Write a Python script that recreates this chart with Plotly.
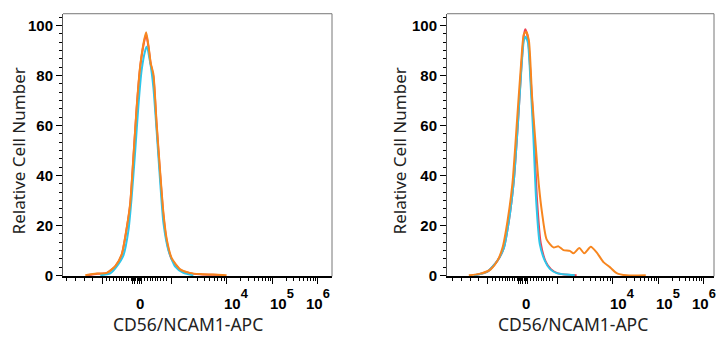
import numpy as np
import plotly.graph_objects as go

# ---------------- data (x in display units of the biexponential axis, y = relative cell number)
tick_labels = ["0", "10<sup><sup><span style='font-size:175%'>4</span></sup></sup>",
               "10<sup><sup><span style='font-size:175%'>5</span></sup></sup>",
               "10<sup><sup><span style='font-size:175%'>6</span></sup></sup>"]
tick_label_pos = [0.06, 2.19, 3.19, 3.98]
major_ticks = [-0.77, -0.1, -0.05, 0.0, 0.05, 0.1, 0.75, 1.97, 2.98, 3.97]

# left panel
left_orange_x = [-1.14, -0.89, -0.67, -0.48, -0.34, -0.23, -0.15, -0.08, -0.01, 0.07, 0.15, 0.20,
                 0.25, 0.30, 0.36, 0.43, 0.51, 0.58, 0.65, 0.76, 0.95, 1.16, 1.38, 1.67, 1.97]
left_orange_y = [0.0, 0.7, 1.0, 3.7, 8.3, 18.8, 29, 47.6, 67, 84, 93.6, 97.3,
                 92, 85, 80.4, 61, 41, 25, 14.8, 7, 2.4, 1.0, 0.5, 0.3, 0.0]
left_red_x = [-1.10, -0.87, -0.66, -0.48, -0.34, -0.23, -0.15, -0.08, -0.01, 0.07, 0.15, 0.20,
              0.25, 0.30, 0.36, 0.43, 0.51, 0.58, 0.65, 0.76, 0.95, 1.16, 1.38, 1.67, 1.90]
left_red_y = [0.0, 0.6, 1.0, 3.6, 8.1, 18.5, 28.5, 47, 66.5, 83.5, 93, 96.5,
              91.5, 84.5, 79.5, 60, 40, 24, 14, 6.5, 2.2, 0.9, 0.4, 0.2, 0.0]
left_cyan_x = [-0.81, -0.59, -0.45, -0.30, -0.19, -0.12, -0.04, 0.03, 0.10, 0.18, 0.21,
               0.29, 0.36, 0.43, 0.51, 0.58, 0.69, 0.84, 1.02, 1.24]
left_cyan_y = [0.0, 0.8, 3.5, 8, 18, 31, 50, 68, 82, 90, 91.5,
               85, 75, 58, 37, 21, 10, 3.5, 1.0, 0.0]

# right panel
right_orange_x = [-1.19, -0.93, -0.71, -0.56, -0.45, -0.34, -0.23, -0.13, -0.04, 0.02, 0.07, 0.13,
                  0.20, 0.28, 0.35, 0.42, 0.52, 0.67, 0.78, 0.89, 1.03, 1.11, 1.24, 1.35, 1.49,
                  1.62, 1.77, 1.91, 2.06, 2.28, 2.70]
right_orange_y = [0.0, 0.7, 2.4, 5.9, 11, 21.7, 37, 62, 85, 96.5, 97.5, 94,
                  71.5, 52, 36, 25, 14.4, 11.2, 11.6, 10.1, 9.8, 8.8, 10.9, 8.8, 11.4,
                  9.2, 5.3, 3.3, 0.9, 0.0, 0.0]
right_red_x = [-1.08, -0.78, -0.56, -0.42, -0.31, -0.20, -0.11, -0.04, 0.02, 0.05,
               0.11, 0.17, 0.24, 0.31, 0.39, 0.50, 0.62, 0.77, 0.98, 1.18]
right_red_y = [0.0, 1.5, 5.9, 11, 21.7, 38, 61, 82, 96, 98.5,
               95, 79, 57, 30, 13, 5.5, 2.4, 0.8, 0.2, 0.0]
right_cyan_x = [-1.08, -0.78, -0.56, -0.42, -0.31, -0.20, -0.11, -0.04, 0.02, 0.06,
                0.11, 0.17, 0.23, 0.29, 0.37, 0.48, 0.59, 0.74, 0.96, 1.14]
right_cyan_y = [0.0, 1.5, 5.9, 11, 21.7, 38, 61, 81, 94, 95.5,
                93, 76, 55, 30, 12.5, 5.9, 2.6, 0.9, 0.3, 0.0]

x_title = "CD56/NCAM1-APC"
y_title = "Relative Cell Number"

# ---------------- styling
CYAN = "#2ec6ea"
RED = "#ef4150"
ORANGE = "#f7861f"

fig = go.Figure()


def add_curve(x, y, color, xa, ya):
    fig.add_trace(go.Scatter(x=x, y=y, mode="lines", xaxis=xa, yaxis=ya,
                             line=dict(color=color, width=2, shape="spline", smoothing=0.6),
                             hoverinfo="skip", showlegend=False))


add_curve(left_red_x, left_red_y, RED, "x", "y")
add_curve(left_cyan_x, left_cyan_y, CYAN, "x", "y")
add_curve(left_orange_x, left_orange_y, ORANGE, "x", "y")
add_curve(right_red_x, right_red_y, RED, "x2", "y2")
add_curve(right_cyan_x, right_cyan_y, CYAN, "x2", "y2")
add_curve(right_orange_x, right_orange_y, ORANGE, "x2", "y2")

# minor tick decoration of the biexponential axis
minor_x = [-1.55, -1.35, -1.16, -0.97,
           -0.68, -0.60, -0.52, -0.45, -0.39, -0.34, -0.29, -0.23, -0.18, -0.13,
           -0.075, -0.025, 0.025, 0.075,
           0.17, 0.23, 0.29, 0.34, 0.40, 0.45, 0.51, 0.58, 0.64]
m = np.log10(np.arange(2, 10))
for a, b in [(0.75, 1.97), (1.97, 2.98), (2.98, 3.97)]:
    minor_x += list(a + (b - a) * m)

TICKFONT = dict(family="Liberation Sans, Arial", size=15, color="black", weight="bold")

xcommon = dict(showgrid=False, zeroline=False, showticklabels=False,
               tickmode="array", tickvals=major_ticks, ticks="outside", ticklen=6,
               tickwidth=1, tickcolor="black", showline=True, linecolor="black", linewidth=1.5,
               minor=dict(tickmode="array", tickvals=minor_x, ticks="outside", ticklen=3,
                          tickwidth=1, tickcolor="black"),
               fixedrange=True)
ycommon = dict(showgrid=False, zeroline=False, range=[-0.4, 104.7],
               tickmode="array", tickvals=[0, 20, 40, 60, 80, 100], ticks="outside",
               ticklen=6, tickwidth=1, tickcolor="black", tickfont=TICKFONT,
               showline=True, linecolor="#555", linewidth=1,
               minor=dict(dtick=20 / 6, tick0=0, ticks="outside", ticklen=3, tickwidth=1,
                          tickcolor="black"),
               fixedrange=True)

ydom = [1 - 282 / 350, 1 - 14 / 350]
fig.update_layout(
    width=728, height=350, autosize=False,
    margin=dict(l=0, r=0, t=0, b=0),
    paper_bgcolor="white", plot_bgcolor="white",
    xaxis=dict(domain=[63 / 728, 332 / 728], range=[-1.63, 4.29], anchor="y", **xcommon),
    yaxis=dict(domain=ydom, anchor="x", **ycommon),
    xaxis2=dict(domain=[447 / 728, 714 / 728], range=[-1.67, 4.20], anchor="y2", **xcommon),
    yaxis2=dict(domain=ydom, anchor="x2", **ycommon),
)

# top/right frame
for xr, yr in [("x domain", "y domain"), ("x2 domain", "y2 domain")]:
    fig.add_shape(type="line", x0=1, x1=1, y0=0, y1=1, xref=xr, yref=yr,
                  line=dict(color="#777", width=1))
    fig.add_shape(type="line", x0=0, x1=1, y0=1, y1=1, xref=xr, yref=yr,
                  line=dict(color="#777", width=1))

TITLEFONT = dict(family="Noto Sans", size=17, color="#222")
ann = []
for xa, cx in [("x", 188), ("x2", 573)]:
    for i, (pos, txt) in enumerate(zip(tick_label_pos, tick_labels)):
        ypix = 310 if i == 0 else 305
        ann.append(dict(x=pos, xref=xa, y=1 - ypix / 350, yref="paper", text=txt,
                        showarrow=False, font=TICKFONT, xanchor="center", yanchor="middle"))
    ann.append(dict(x=cx / 728, xref="paper", y=1 - 331 / 350, yref="paper", text=x_title,
                    showarrow=False, font=dict(TITLEFONT, size=17.5), xanchor="center",
                    yanchor="middle"))
for cx in [18, 399]:
    ann.append(dict(x=cx / 728, xref="paper", y=1 - 154.5 / 350, yref="paper", text=y_title,
                    showarrow=False, font=TITLEFONT, textangle=-90, xanchor="center",
                    yanchor="middle"))
fig.update_layout(annotations=ann)

fig.write_html("out.html")
